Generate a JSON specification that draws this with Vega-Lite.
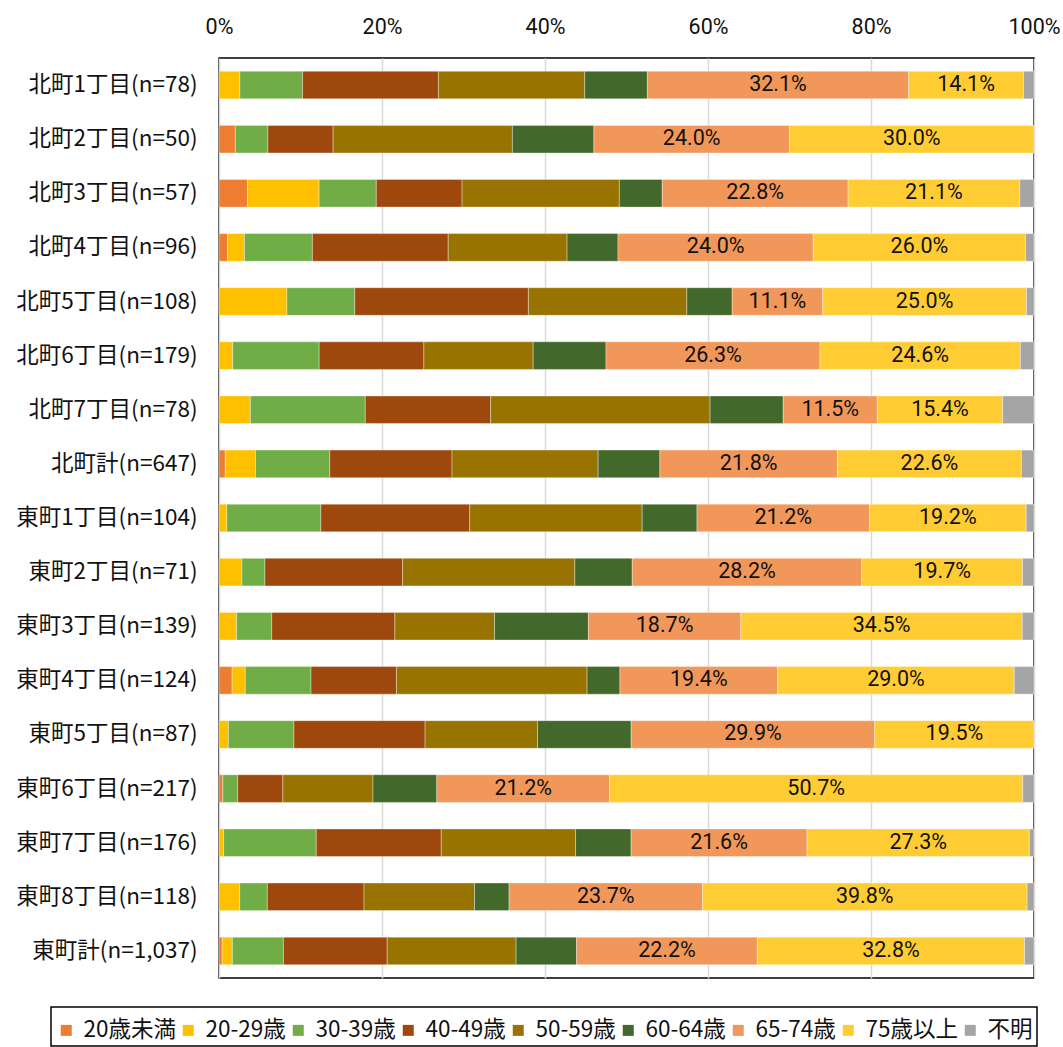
{
  "$schema": "https://vega.github.io/schema/vega-lite/v6.json",
  "width": 815,
  "height": 920,
  "autosize": {"type": "none"},
  "padding": {"left": 219, "top": 58, "right": 29, "bottom": 69},
  "background": "white",
  "config": {
    "view": {"stroke": "#000", "strokeWidth": 1.5},
    "legend": {"strokeColor": "#000", "strokeWidth": 1.5, "fillColor": "#fff"}
  },
  "data": {"values": [
    {"area": "北町1丁目(n=78)", "age": "20-29歳", "share": 0.02564},
    {"area": "北町1丁目(n=78)", "age": "30-39歳", "share": 0.07692},
    {"area": "北町1丁目(n=78)", "age": "40-49歳", "share": 0.16667},
    {"area": "北町1丁目(n=78)", "age": "50-59歳", "share": 0.17949},
    {"area": "北町1丁目(n=78)", "age": "60-64歳", "share": 0.07692},
    {"area": "北町1丁目(n=78)", "age": "65-74歳", "share": 0.32051},
    {"area": "北町1丁目(n=78)", "age": "75歳以上", "share": 0.14103},
    {"area": "北町1丁目(n=78)", "age": "不明", "share": 0.01282},

    {"area": "北町2丁目(n=50)", "age": "20歳未満", "share": 0.02},
    {"area": "北町2丁目(n=50)", "age": "30-39歳", "share": 0.04},
    {"area": "北町2丁目(n=50)", "age": "40-49歳", "share": 0.08},
    {"area": "北町2丁目(n=50)", "age": "50-59歳", "share": 0.22},
    {"area": "北町2丁目(n=50)", "age": "60-64歳", "share": 0.10},
    {"area": "北町2丁目(n=50)", "age": "65-74歳", "share": 0.24},
    {"area": "北町2丁目(n=50)", "age": "75歳以上", "share": 0.30},

    {"area": "北町3丁目(n=57)", "age": "20歳未満", "share": 0.03509},
    {"area": "北町3丁目(n=57)", "age": "20-29歳", "share": 0.08772},
    {"area": "北町3丁目(n=57)", "age": "30-39歳", "share": 0.07018},
    {"area": "北町3丁目(n=57)", "age": "40-49歳", "share": 0.10526},
    {"area": "北町3丁目(n=57)", "age": "50-59歳", "share": 0.19298},
    {"area": "北町3丁目(n=57)", "age": "60-64歳", "share": 0.05263},
    {"area": "北町3丁目(n=57)", "age": "65-74歳", "share": 0.22807},
    {"area": "北町3丁目(n=57)", "age": "75歳以上", "share": 0.21053},
    {"area": "北町3丁目(n=57)", "age": "不明", "share": 0.01754},

    {"area": "北町4丁目(n=96)", "age": "20歳未満", "share": 0.01042},
    {"area": "北町4丁目(n=96)", "age": "20-29歳", "share": 0.02083},
    {"area": "北町4丁目(n=96)", "age": "30-39歳", "share": 0.08333},
    {"area": "北町4丁目(n=96)", "age": "40-49歳", "share": 0.16667},
    {"area": "北町4丁目(n=96)", "age": "50-59歳", "share": 0.14583},
    {"area": "北町4丁目(n=96)", "age": "60-64歳", "share": 0.0625},
    {"area": "北町4丁目(n=96)", "age": "65-74歳", "share": 0.23958},
    {"area": "北町4丁目(n=96)", "age": "75歳以上", "share": 0.26042},
    {"area": "北町4丁目(n=96)", "age": "不明", "share": 0.01042},

    {"area": "北町5丁目(n=108)", "age": "20-29歳", "share": 0.08333},
    {"area": "北町5丁目(n=108)", "age": "30-39歳", "share": 0.08333},
    {"area": "北町5丁目(n=108)", "age": "40-49歳", "share": 0.21296},
    {"area": "北町5丁目(n=108)", "age": "50-59歳", "share": 0.19444},
    {"area": "北町5丁目(n=108)", "age": "60-64歳", "share": 0.05556},
    {"area": "北町5丁目(n=108)", "age": "65-74歳", "share": 0.11111},
    {"area": "北町5丁目(n=108)", "age": "75歳以上", "share": 0.25},
    {"area": "北町5丁目(n=108)", "age": "不明", "share": 0.00926},

    {"area": "北町6丁目(n=179)", "age": "20-29歳", "share": 0.01676},
    {"area": "北町6丁目(n=179)", "age": "30-39歳", "share": 0.10615},
    {"area": "北町6丁目(n=179)", "age": "40-49歳", "share": 0.12849},
    {"area": "北町6丁目(n=179)", "age": "50-59歳", "share": 0.13408},
    {"area": "北町6丁目(n=179)", "age": "60-64歳", "share": 0.08939},
    {"area": "北町6丁目(n=179)", "age": "65-74歳", "share": 0.26257},
    {"area": "北町6丁目(n=179)", "age": "75歳以上", "share": 0.24581},
    {"area": "北町6丁目(n=179)", "age": "不明", "share": 0.01676},

    {"area": "北町7丁目(n=78)", "age": "20-29歳", "share": 0.03846},
    {"area": "北町7丁目(n=78)", "age": "30-39歳", "share": 0.14103},
    {"area": "北町7丁目(n=78)", "age": "40-49歳", "share": 0.15385},
    {"area": "北町7丁目(n=78)", "age": "50-59歳", "share": 0.26923},
    {"area": "北町7丁目(n=78)", "age": "60-64歳", "share": 0.08974},
    {"area": "北町7丁目(n=78)", "age": "65-74歳", "share": 0.11538},
    {"area": "北町7丁目(n=78)", "age": "75歳以上", "share": 0.15385},
    {"area": "北町7丁目(n=78)", "age": "不明", "share": 0.03846},

    {"area": "北町計(n=647)", "age": "20歳未満", "share": 0.00773},
    {"area": "北町計(n=647)", "age": "20-29歳", "share": 0.03709},
    {"area": "北町計(n=647)", "age": "30-39歳", "share": 0.09119},
    {"area": "北町計(n=647)", "age": "40-49歳", "share": 0.14992},
    {"area": "北町計(n=647)", "age": "50-59歳", "share": 0.17929},
    {"area": "北町計(n=647)", "age": "60-64歳", "share": 0.07573},
    {"area": "北町計(n=647)", "age": "65-74歳", "share": 0.21793},
    {"area": "北町計(n=647)", "age": "75歳以上", "share": 0.22566},
    {"area": "北町計(n=647)", "age": "不明", "share": 0.01546},

    {"area": "東町1丁目(n=104)", "age": "20-29歳", "share": 0.00962},
    {"area": "東町1丁目(n=104)", "age": "30-39歳", "share": 0.11538},
    {"area": "東町1丁目(n=104)", "age": "40-49歳", "share": 0.18269},
    {"area": "東町1丁目(n=104)", "age": "50-59歳", "share": 0.21154},
    {"area": "東町1丁目(n=104)", "age": "60-64歳", "share": 0.06731},
    {"area": "東町1丁目(n=104)", "age": "65-74歳", "share": 0.21154},
    {"area": "東町1丁目(n=104)", "age": "75歳以上", "share": 0.19231},
    {"area": "東町1丁目(n=104)", "age": "不明", "share": 0.00962},

    {"area": "東町2丁目(n=71)", "age": "20-29歳", "share": 0.02817},
    {"area": "東町2丁目(n=71)", "age": "30-39歳", "share": 0.02817},
    {"area": "東町2丁目(n=71)", "age": "40-49歳", "share": 0.16901},
    {"area": "東町2丁目(n=71)", "age": "50-59歳", "share": 0.21127},
    {"area": "東町2丁目(n=71)", "age": "60-64歳", "share": 0.07042},
    {"area": "東町2丁目(n=71)", "age": "65-74歳", "share": 0.28169},
    {"area": "東町2丁目(n=71)", "age": "75歳以上", "share": 0.19718},
    {"area": "東町2丁目(n=71)", "age": "不明", "share": 0.01408},

    {"area": "東町3丁目(n=139)", "age": "20-29歳", "share": 0.02158},
    {"area": "東町3丁目(n=139)", "age": "30-39歳", "share": 0.04317},
    {"area": "東町3丁目(n=139)", "age": "40-49歳", "share": 0.15108},
    {"area": "東町3丁目(n=139)", "age": "50-59歳", "share": 0.1223},
    {"area": "東町3丁目(n=139)", "age": "60-64歳", "share": 0.11511},
    {"area": "東町3丁目(n=139)", "age": "65-74歳", "share": 0.18705},
    {"area": "東町3丁目(n=139)", "age": "75歳以上", "share": 0.34532},
    {"area": "東町3丁目(n=139)", "age": "不明", "share": 0.01439},

    {"area": "東町4丁目(n=124)", "age": "20歳未満", "share": 0.01613},
    {"area": "東町4丁目(n=124)", "age": "20-29歳", "share": 0.01613},
    {"area": "東町4丁目(n=124)", "age": "30-39歳", "share": 0.08065},
    {"area": "東町4丁目(n=124)", "age": "40-49歳", "share": 0.10484},
    {"area": "東町4丁目(n=124)", "age": "50-59歳", "share": 0.23387},
    {"area": "東町4丁目(n=124)", "age": "60-64歳", "share": 0.04032},
    {"area": "東町4丁目(n=124)", "age": "65-74歳", "share": 0.19355},
    {"area": "東町4丁目(n=124)", "age": "75歳以上", "share": 0.29032},
    {"area": "東町4丁目(n=124)", "age": "不明", "share": 0.02419},

    {"area": "東町5丁目(n=87)", "age": "20-29歳", "share": 0.01149},
    {"area": "東町5丁目(n=87)", "age": "30-39歳", "share": 0.08046},
    {"area": "東町5丁目(n=87)", "age": "40-49歳", "share": 0.16092},
    {"area": "東町5丁目(n=87)", "age": "50-59歳", "share": 0.13793},
    {"area": "東町5丁目(n=87)", "age": "60-64歳", "share": 0.11494},
    {"area": "東町5丁目(n=87)", "age": "65-74歳", "share": 0.29885},
    {"area": "東町5丁目(n=87)", "age": "75歳以上", "share": 0.1954},

    {"area": "東町6丁目(n=217)", "age": "20歳未満", "share": 0.00461},
    {"area": "東町6丁目(n=217)", "age": "30-39歳", "share": 0.01843},
    {"area": "東町6丁目(n=217)", "age": "40-49歳", "share": 0.0553},
    {"area": "東町6丁目(n=217)", "age": "50-59歳", "share": 0.1106},
    {"area": "東町6丁目(n=217)", "age": "60-64歳", "share": 0.07834},
    {"area": "東町6丁目(n=217)", "age": "65-74歳", "share": 0.21198},
    {"area": "東町6丁目(n=217)", "age": "75歳以上", "share": 0.50691},
    {"area": "東町6丁目(n=217)", "age": "不明", "share": 0.01382},

    {"area": "東町7丁目(n=176)", "age": "20-29歳", "share": 0.00568},
    {"area": "東町7丁目(n=176)", "age": "30-39歳", "share": 0.11364},
    {"area": "東町7丁目(n=176)", "age": "40-49歳", "share": 0.15341},
    {"area": "東町7丁目(n=176)", "age": "50-59歳", "share": 0.16477},
    {"area": "東町7丁目(n=176)", "age": "60-64歳", "share": 0.06818},
    {"area": "東町7丁目(n=176)", "age": "65-74歳", "share": 0.21591},
    {"area": "東町7丁目(n=176)", "age": "75歳以上", "share": 0.27273},
    {"area": "東町7丁目(n=176)", "age": "不明", "share": 0.00568},

    {"area": "東町8丁目(n=118)", "age": "20-29歳", "share": 0.02542},
    {"area": "東町8丁目(n=118)", "age": "30-39歳", "share": 0.0339},
    {"area": "東町8丁目(n=118)", "age": "40-49歳", "share": 0.11864},
    {"area": "東町8丁目(n=118)", "age": "50-59歳", "share": 0.13559},
    {"area": "東町8丁目(n=118)", "age": "60-64歳", "share": 0.04237},
    {"area": "東町8丁目(n=118)", "age": "65-74歳", "share": 0.23729},
    {"area": "東町8丁目(n=118)", "age": "75歳以上", "share": 0.39831},
    {"area": "東町8丁目(n=118)", "age": "不明", "share": 0.00847},

    {"area": "東町計(n=1,037)", "age": "20歳未満", "share": 0.00386},
    {"area": "東町計(n=1,037)", "age": "20-29歳", "share": 0.01254},
    {"area": "東町計(n=1,037)", "age": "30-39歳", "share": 0.06268},
    {"area": "東町計(n=1,037)", "age": "40-49歳", "share": 0.12729},
    {"area": "東町計(n=1,037)", "age": "50-59歳", "share": 0.15815},
    {"area": "東町計(n=1,037)", "age": "60-64歳", "share": 0.07425},
    {"area": "東町計(n=1,037)", "age": "65-74歳", "share": 0.2218},
    {"area": "東町計(n=1,037)", "age": "75歳以上", "share": 0.32787},
    {"area": "東町計(n=1,037)", "age": "不明", "share": 0.01157}
  ]},
  "transform": [
    {
      "lookup": "age",
      "from": {
        "data": {"values": [
          {"age": "20歳未満", "rank": 1},
          {"age": "20-29歳", "rank": 2},
          {"age": "30-39歳", "rank": 3},
          {"age": "40-49歳", "rank": 4},
          {"age": "50-59歳", "rank": 5},
          {"age": "60-64歳", "rank": 6},
          {"age": "65-74歳", "rank": 7},
          {"age": "75歳以上", "rank": 8},
          {"age": "不明", "rank": 9}
        ]},
        "key": "age",
        "fields": ["rank"]
      }
    }
  ],
  "encoding": {
    "y": {
      "field": "area", "type": "nominal", "sort": null, "title": null,
      "scale": {"paddingInner": 0.49, "paddingOuter": 0.245},
      "axis": {"ticks": false, "domain": false, "labelPadding": 22, "labelFont": "Noto Sans CJK JP", "labelFontSize": 22.5, "labelColor": "#111", "labelLimit": 400}
    },
    "x": {
      "field": "share", "type": "quantitative", "stack": "normalize", "title": null,
      "scale": {"domain": [0, 1], "nice": false},
      "axis": {"orient": "top", "format": ".0%", "values": [0, 0.2, 0.4, 0.6, 0.8, 1], "ticks": false, "tickSize": 0, "domain": false, "labelPadding": 20, "labelFont": "Roboto", "labelFontSize": 21.5, "labelColor": "#111", "gridColor": "#d9d9d9", "gridWidth": 1.5, "labelFlush": false}
    },
    "order": {"field": "rank", "type": "quantitative", "sort": "ascending"}
  },
  "layer": [
    {
      "mark": {"type": "bar", "stroke": "#fff", "strokeWidth": 0.5, "strokeOpacity": 0.7},
      "encoding": {
        "color": {
          "field": "age", "type": "nominal",
          "sort": ["20歳未満", "20-29歳", "30-39歳", "40-49歳", "50-59歳", "60-64歳", "65-74歳", "75歳以上", "不明"],
          "scale": {
            "domain": ["20歳未満", "20-29歳", "30-39歳", "40-49歳", "50-59歳", "60-64歳", "65-74歳", "75歳以上", "不明"],
            "range": ["#ED7D31", "#FFC000", "#70AD47", "#9E480E", "#997300", "#43682B", "#F1975A", "#FFCD33", "#A5A5A5"]
          },
          "legend": {
            "title": " ", "titleFontSize": 8, "titlePadding": 0,
            "orient": "none", "legendX": -168, "legendY": 949, "direction": "horizontal",
            "symbolType": "square", "symbolSize": 121, "symbolStrokeWidth": 0,
            "labelFont": "Noto Sans CJK JP", "labelFontSize": 22.5, "labelColor": "#111", "labelOffset": 6,
            "columnPadding": 1, "padding": 4, "labelLimit": 300
          }
        }
      }
    },
    {
      "mark": {"type": "text", "font": "Roboto", "fontSize": 21.5, "align": "center", "baseline": "middle", "color": "#111"},
      "encoding": {
        "x": {"field": "share", "type": "quantitative", "stack": "normalize", "bandPosition": 0.5},
        "detail": {"field": "age", "type": "nominal"},
        "text": {
          "condition": {"test": "datum.age === '65-74歳' || datum.age === '75歳以上'", "field": "share", "format": ".1%"},
          "value": ""
        }
      }
    }
  ]
}
